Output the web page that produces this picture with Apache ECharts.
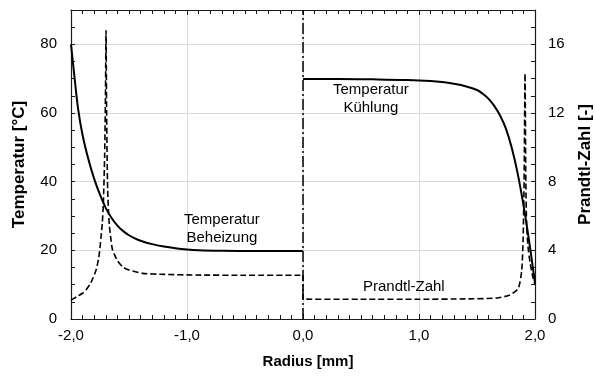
<!DOCTYPE html>
<html>
<head>
<meta charset="utf-8">
<script src="https://cdn.jsdelivr.net/npm/echarts@6/dist/echarts.min.js"></script>
<style>
  html, body { margin: 0; padding: 0; background: #fff; overflow: hidden; }
  #chart { width: 595px; height: 376px; }
</style>
</head>
<body>
<div id="chart"></div>
<script>
// Heating side (r < 0): temperature profile
const radiusHeat = [-2.0, -1.97, -1.94, -1.9, -1.85, -1.8, -1.75, -1.7, -1.65, -1.6, -1.55, -1.5, -1.45, -1.4, -1.3, -1.2, -1.1, -1.0, -0.9, -0.7, -0.4, 0.0];
const tempHeat   = [80, 70.5, 61.5, 53.5, 46.5, 40.8, 36.2, 32.3, 29.4, 27.2, 25.6, 24.4, 23.5, 22.8, 21.8, 21.1, 20.6, 20.25, 20.05, 19.9, 19.8, 19.8];

// Cooling side (r > 0): temperature profile
const radiusCool = [0.0, 0.3, 0.6, 0.9, 1.1, 1.2, 1.3, 1.4, 1.5, 1.55, 1.6, 1.65, 1.7, 1.75, 1.8, 1.85, 1.9, 1.95, 2.0];
const tempCool   = [69.9, 69.9, 69.8, 69.6, 69.3, 69.0, 68.5, 67.8, 66.7, 65.6, 64.1, 62.0, 59.2, 55.4, 49.8, 42.5, 33.3, 22.5, 10.5];

// Prandtl number across the whole radius
const radiusPr = [-2.0, -1.95, -1.9, -1.871, -1.83, -1.784, -1.76, -1.741, -1.73, -1.721, -1.71, -1.703, -1.698, -1.693, -1.684, -1.67, -1.655, -1.641, -1.6, -1.555, -1.5, -1.382, -1.2, -0.922, -0.5, 0.0,
                  0.0, 0.5, 1.0, 1.4, 1.67, 1.784, 1.856, 1.885, 1.897, 1.906, 1.914, 1.921, 1.928, 1.94, 1.957, 1.98, 2.0];
const prandtl  = [1.1, 1.3, 1.5, 1.69, 2.1, 2.85, 3.6, 4.79, 5.6, 6.75, 9.5, 13, 16.8, 12, 7.5, 5.5, 4.6, 4.0, 3.4, 3.04, 2.85, 2.66, 2.6, 2.56, 2.55, 2.55,
                  1.16, 1.15, 1.15, 1.17, 1.22, 1.4, 1.78, 2.8, 4.5, 8, 14.3, 8, 5.4, 4.2, 3.3, 2.5, 2.0];

// Axis scales
const radiusTicks = [-2, -1, 0, 1, 2];
const tempRange = [0, 90];
const tempStep = 20;
const prRange = [0, 18];
const prStep = 4;

const zip = (xs, ys) => xs.map((x, i) => [x, ys[i]]);

const FONT = 'Liberation Sans, Arial, sans-serif';
const AXIS_COLOR = '#1a1a1a';
const GRID_COLOR = '#d9d9d9';
const TICK_FONT = 15;
const NOTE_FONT = '15px ' + FONT;

const chart = echarts.init(document.getElementById('chart'), null, { renderer: 'canvas', width: 595, height: 376 });

const tickOnlyY = (position, range, step) => ({
  type: 'value', position,
  min: range[0], max: range[1], interval: step,
  axisLine: { show: false, onZero: false },
  axisTick: { show: true, inside: true, length: 4, lineStyle: { color: AXIS_COLOR } },
  axisLabel: { show: false },
  splitLine: { show: false }
});

chart.setOption({
  animation: false,
  backgroundColor: '#fff',
  grid: { left: 71, right: 60, top: 10, bottom: 57, containLabel: false, outerBoundsMode: 'none' },
  xAxis: [
    {
      type: 'value', position: 'bottom',
      min: radiusTicks[0], max: radiusTicks[radiusTicks.length - 1], interval: 1,
      name: 'Radius [mm]', nameLocation: 'middle', nameGap: 35,
      nameTextStyle: { fontFamily: FONT, fontSize: 15, fontWeight: 'bold', color: '#000', padding: [0, 0, 0, 10] },
      axisLine: { show: true, onZero: false, lineStyle: { color: AXIS_COLOR, width: 1.2 } },
      axisTick: { show: true, inside: true, length: 5, lineStyle: { color: AXIS_COLOR } },
      minorTick: { show: true, splitNumber: 10, length: 4, lineStyle: { color: AXIS_COLOR } },
      axisLabel: { margin: 9, fontFamily: FONT, fontSize: TICK_FONT, color: '#000', formatter: v => v.toFixed(1).replace('.', ',') },
      splitLine: { show: true, lineStyle: { color: GRID_COLOR, width: 1 } }
    },
    {
      type: 'value', position: 'top',
      min: radiusTicks[0], max: radiusTicks[radiusTicks.length - 1], interval: 1,
      axisLine: { show: true, onZero: false, lineStyle: { color: AXIS_COLOR, width: 1.2 } },
      axisTick: { show: true, inside: true, length: 5, lineStyle: { color: AXIS_COLOR } },
      minorTick: { show: true, splitNumber: 10, length: 4, lineStyle: { color: AXIS_COLOR } },
      axisLabel: { show: false },
      splitLine: { show: false }
    }
  ],
  yAxis: [
    {
      // Temperature axis (labels + grid)
      type: 'value', position: 'left',
      min: tempRange[0], max: tempRange[1], interval: tempStep,
      name: 'Temperatur [°C]', nameLocation: 'middle', nameGap: 43, nameRotate: 90,
      nameTextStyle: { fontFamily: FONT, fontSize: 17, fontWeight: 'bold', color: '#000' },
      axisLine: { show: true, onZero: false, lineStyle: { color: AXIS_COLOR, width: 1.2 } },
      axisTick: { show: false },
      axisLabel: { margin: 14, fontFamily: FONT, fontSize: TICK_FONT, color: '#000',
                   formatter: v => (v % tempStep === 0 ? String(v) : '') },
      splitLine: { show: true, lineStyle: { color: GRID_COLOR, width: 1 } }
    },
    {
      // Prandtl axis (labels)
      type: 'value', position: 'right',
      min: prRange[0], max: prRange[1], interval: prStep,
      name: 'Prandtl-Zahl [-]', nameLocation: 'middle', nameGap: 42, nameRotate: 90,
      nameTextStyle: { fontFamily: FONT, fontSize: 17, fontWeight: 'bold', color: '#000' },
      axisLine: { show: true, onZero: false, lineStyle: { color: AXIS_COLOR, width: 1.2 } },
      axisTick: { show: false },
      axisLabel: { margin: 13, fontFamily: FONT, fontSize: TICK_FONT, color: '#000',
                   formatter: v => (v % prStep === 0 ? String(v) : '') },
      splitLine: { show: false }
    },
    // fine tick marks on both sides
    tickOnlyY('left', tempRange, 5),
    tickOnlyY('right', prRange, 1)
  ],
  series: [
    {
      name: 'Temperatur Beheizung', type: 'line', xAxisIndex: 0, yAxisIndex: 0,
      data: zip(radiusHeat, tempHeat), showSymbol: false, smooth: 0.3,
      lineStyle: { color: '#000', width: 2 },
      markLine: {
        silent: true, symbol: 'none', label: { show: false },
        lineStyle: { color: '#000', width: 1.5, type: [11, 3, 2, 3] },
        data: [{ xAxis: 0 }]
      },
      z: 3
    },
    {
      name: 'Temperatur Kühlung', type: 'line', xAxisIndex: 0, yAxisIndex: 0,
      data: zip(radiusCool, tempCool), showSymbol: false, smooth: 0.4,
      lineStyle: { color: '#000', width: 2 }, z: 3
    },
    {
      name: 'Prandtl-Zahl', type: 'line', xAxisIndex: 0, yAxisIndex: 1,
      data: zip(radiusPr, prandtl), showSymbol: false, smooth: 0.2,
      lineStyle: { color: '#000', width: 1.6, type: [6, 3] }, z: 4
    }
  ],
  graphic: [
    { type: 'text', left: 184, top: 211, style: { text: 'Temperatur\nBeheizung', textAlign: 'center', font: NOTE_FONT, lineHeight: 18, fill: '#000' }, z: 10 },
    { type: 'text', left: 333, top: 81, style: { text: 'Temperatur\nKühlung', textAlign: 'center', font: NOTE_FONT, lineHeight: 18, fill: '#000' }, z: 10 },
    { type: 'text', left: 363, top: 279, style: { text: 'Prandtl-Zahl', font: NOTE_FONT, fill: '#000' }, z: 10 }
  ]
});
</script>
</body>
</html>
